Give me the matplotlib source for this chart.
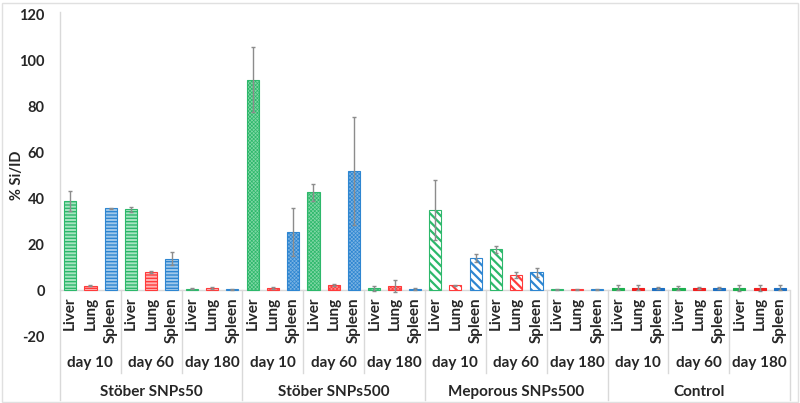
import matplotlib
matplotlib.use("Agg")
import matplotlib.pyplot as plt
import numpy as np
from matplotlib.transforms import blended_transform_factory
from matplotlib.patches import Rectangle
from matplotlib.lines import Line2D

plt.rcParams['font.family'] = ['Lato', 'DejaVu Sans']

groups = ["Stöber SNPs50", "Stöber SNPs500", "Meporous SNPs500", "Control"]
days = ["day 10", "day 60", "day 180"]
organs = ["Liver", "Lung", "Spleen"]

# values per group: [d10 L, Lu, S, d60 L, Lu, S, d180 L, Lu, S]
snps50 = [38.8, 1.9, 35.5, 35.1, 7.8, 13.6, 0.5, 0.8, 0.3]
snps50_err = [4.3, 0.3, 0.3, 1.2, 0.3, 2.8, 0.2, 0.3, 0.2]
snps500 = [91.5, 0.9, 25.2, 42.4, 2.2, 51.7, 0.7, 1.7, 0.5]
snps500_err = [14.0, 0.3, 10.6, 3.5, 0.3, 23.5, 1.1, 2.6, 0.3]
meso500 = [34.8, 2.0, 13.8, 17.7, 6.4, 7.7, 0.4, 0.4, 0.3]
meso500_err = [13.0, 0.3, 1.8, 1.4, 1.3, 2.0, 0.2, 0.2, 0.1]
control = [1.0, 1.0, 0.9, 1.0, 0.9, 0.9, 1.0, 1.0, 1.0]
control_err = [1.0, 1.2, 0.3, 0.8, 0.4, 0.5, 1.3, 1.3, 1.2]

yticks = [-20, 0, 20, 40, 60, 80, 100, 120]

dark = {"Liver": "#2DB86B", "Lung": "#FF3B3B", "Spleen": "#2E86D1"}
light = {"Liver": "#A8E5C2", "Lung": "#FFB3B3", "Spleen": "#A0C8EB"}
mid = {"Liver": "#7FD6A4", "Lung": "#FF8A8A", "Spleen": "#79B2E2"}
solid = {"Liver": "#1DB04F", "Lung": "#F01E1E", "Spleen": "#1C6FC2"}

styles = [
    dict(hatch="-----", hlw=1.0, face=light, edge=dark),
    dict(hatch="xxxxxxxxx", hlw=0.5, face=mid, edge=dark),
    dict(hatch="\\\\\\\\", hlw=1.6, face={k: "white" for k in organs}, edge=dark),
    dict(hatch=None, hlw=1.0, face=solid, edge=solid),
]

TXT = '#262626'
fig = plt.figure(figsize=(8, 4.03), dpi=100)
ax = fig.add_axes([60/800, 1-336/403, 730/800, (336-14)/403])

datasets = [(snps50, snps50_err), (snps500, snps500_err), (meso500, meso500_err), (control, control_err)]
x = 0
for gi, (vals, errs) in enumerate(datasets):
    st = styles[gi]
    for k in range(9):
        org = organs[k % 3]
        with plt.rc_context({'hatch.linewidth': st['hlw']}):
            b = ax.bar(x, vals[k], width=0.6, color=st['face'][org], edgecolor=st['edge'][org],
                       linewidth=0.8, hatch=st['hatch'], zorder=2)
        for p in b:
            if hasattr(p, 'set_hatch_linewidth'):
                p.set_hatch_linewidth(st['hlw'])
        ax.errorbar(x, vals[k], yerr=errs[k], fmt='none', ecolor='#8C8C8C', elinewidth=1.0,
                    capsize=1.5, capthick=1.0, zorder=3)
        x += 1

ax.set_xlim(-0.5, 35.5)
ax.set_ylim(-20, 120)
ax.set_yticks(yticks)
ax.set_yticklabels([str(t) for t in yticks], fontsize=10.5, fontweight='bold', color=TXT)
ax.tick_params(axis='y', length=0, pad=11)
ax.set_xticks([])
for s in ax.spines.values():
    s.set_visible(False)
ax.axhline(0, color='#D9D9D9', linewidth=1.0, zorder=1)
ax.set_ylabel("% Si/ID", fontsize=10.5, fontweight='bold', color=TXT)
ax.yaxis.set_label_coords(-0.050, 0.5)

tr = blended_transform_factory(ax.transData, fig.transFigure)
y0 = 1 - 290/403
FS = 11
for i in range(36):
    ax.text(i, 1 - 297/403, organs[i % 3], rotation=90, ha='center', va='top', fontsize=FS,
            fontweight='bold', color=TXT, transform=tr)
for j in range(12):
    ax.text(3*j + 1, 1 - 363/403, days[j % 3], ha='center', va='center', fontsize=FS,
            fontweight='bold', color=TXT, transform=tr)
for g in range(4):
    ax.text(9*g + 4, 1 - 392/403, groups[g], ha='center', va='center', fontsize=FS,
            fontweight='bold', color=TXT, transform=tr)
for j in range(1, 12):
    if j % 3 == 0:
        continue
    ax.add_line(Line2D([3*j - 0.5]*2, [y0, 1 - 373/403], color='#D9D9D9', lw=1.0,
                       transform=tr, clip_on=False))
for g in range(5):
    ax.add_line(Line2D([9*g - 0.5]*2, [y0, 1 - 400/403], color='#D9D9D9', lw=1.0,
                       transform=tr, clip_on=False))
ax.add_line(Line2D([-0.5]*2, [1 - 12/403, y0], color='#D9D9D9', lw=1.0, transform=tr, clip_on=False))

fig.patches.append(Rectangle((0.003, 0.003), 0.994, 0.99, transform=fig.transFigure,
                             fill=False, edgecolor='#E0E0E0', linewidth=1.0))

fig.savefig("out.png", dpi=100)
